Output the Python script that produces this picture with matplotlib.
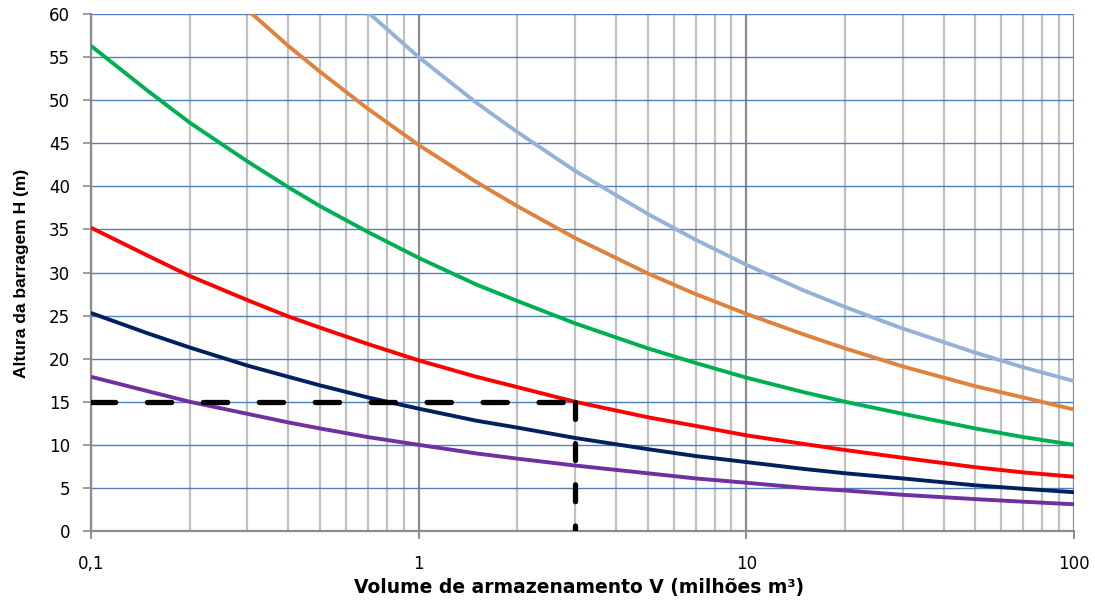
"""Altura da barragem vs volume de armazenamento"""
import matplotlib.pyplot as plt
import matplotlib
from matplotlib.ticker import FixedLocator, NullFormatter, NullLocator

matplotlib.rcParams['font.family'] = ['DejaVu Sans']

# volume (milhões m3) e alturas
volume = [0.1, 0.15, 0.2, 0.3, 0.4, 0.5, 0.7, 1, 1.5, 2, 3, 5, 7, 10, 15, 20, 30, 50, 70, 100]
h_azul_claro = [97.8, 88.6, 82.3, 74.4, 69.2, 65.4, 60.2, 55.0, 49.7, 46.3, 41.8, 36.8, 33.8,
                30.9, 27.9, 26.0, 23.5, 20.7, 19.0, 17.4]
h_laranja = [79.7, 72.1, 67.0, 60.5, 56.3, 53.3, 49.0, 44.8, 40.5, 37.7, 34.0, 29.9, 27.5,
             25.2, 22.8, 21.2, 19.1, 16.8, 15.5, 14.1]
h_verde = [56.3, 51.0, 47.4, 42.9, 39.9, 37.7, 34.7, 31.7, 28.6, 26.7, 24.1, 21.2, 19.5,
           17.8, 16.1, 15.0, 13.6, 11.9, 10.9, 10.0]
h_vermelho = [35.2, 31.9, 29.6, 26.8, 24.9, 23.6, 21.7, 19.8, 17.9, 16.7, 15.0, 13.2, 12.2,
              11.1, 10.1, 9.4, 8.5, 7.4, 6.8, 6.3]
h_azul_escuro = [25.3, 22.9, 21.3, 19.2, 17.9, 16.9, 15.5, 14.2, 12.8, 12.0, 10.8, 9.5, 8.7,
                 8.0, 7.2, 6.7, 6.1, 5.3, 4.9, 4.5]
h_roxo = [17.9, 16.2, 15.0, 13.6, 12.6, 11.9, 10.9, 10.0, 9.0, 8.4, 7.6, 6.7, 6.1,
          5.6, 5.0, 4.7, 4.2, 3.7, 3.4, 3.1]

series = [
    (h_azul_claro, '#95B1D8'),
    (h_laranja, '#E0823D'),
    (h_verde, '#00B050'),
    (h_vermelho, '#FF0000'),
    (h_azul_escuro, '#002060'),
    (h_roxo, '#7030A0'),
]

# exemplo de leitura
v_ref = 3
h_ref = 15

x_ticks = [0.1, 1, 10, 100]
x_labels = ['0,1', '1', '10', '100']
y_ticks = list(range(0, 61, 5))

fig = plt.figure(figsize=(10.95, 6), dpi=100)
ax = fig.add_axes([91 / 1095, 1 - 531 / 600, (1074 - 91) / 1095, (531 - 14) / 600])
ax.set_xscale('log')
ax.set_xlim(0.1, 100)
ax.set_ylim(0, 60)

# grelha
minors = [m * 10.0 ** e for e in range(-1, 2) for m in range(2, 10)]
for xv in minors:
    ax.axvline(xv, color='#C0C0C0', linewidth=1.6, zorder=1)
for xv in x_ticks:
    ax.axvline(xv, color='#8C8C8C', linewidth=1.6, zorder=1)
for yv in y_ticks:
    ax.axhline(yv, color='#4F81BD', linewidth=1.0, zorder=1.5)

for h, c in series:
    ax.plot(volume, h, color=c, linewidth=2.8, zorder=3, solid_capstyle='butt')

ax.plot([0.1, v_ref], [h_ref, h_ref], color='black', linewidth=3.8,
        dashes=(4.6, 6.0), dash_capstyle='round', zorder=4)
ax.plot([v_ref, v_ref], [h_ref, 0], color='black', linewidth=3.8,
        dashes=(3.2, 4.6), dash_capstyle='round', zorder=4)

ax.xaxis.set_major_locator(FixedLocator(x_ticks))
ax.xaxis.set_minor_locator(NullLocator())
ax.xaxis.set_minor_formatter(NullFormatter())
ax.set_xticklabels(x_labels)
ax.set_yticks(y_ticks)

for s in ['top', 'right']:
    ax.spines[s].set_visible(False)
for s in ['left', 'bottom']:
    ax.spines[s].set_color('#8C8C8C')
    ax.spines[s].set_linewidth(1.6)

ax.tick_params(axis='x', length=6, width=1.4, color='#8C8C8C', pad=11, labelsize=12)
ax.tick_params(axis='y', length=6, width=1.2, color='#8C8C8C', pad=9, labelsize=12)

fig.text(579 / 1095, 1 - 588 / 600, 'Volume de armazenamento V (milhões m³)',
         fontsize=13.5, fontweight='bold', ha='center', va='center')
fig.text(22 / 1095, 1 - 273 / 600, 'Altura da barragem H (m)', rotation=90,
         fontsize=12.5, fontweight='bold', ha='center', va='center',
         family=['Liberation Sans', 'DejaVu Sans'])

plt.savefig('out.png', dpi=100)
plt.close()
